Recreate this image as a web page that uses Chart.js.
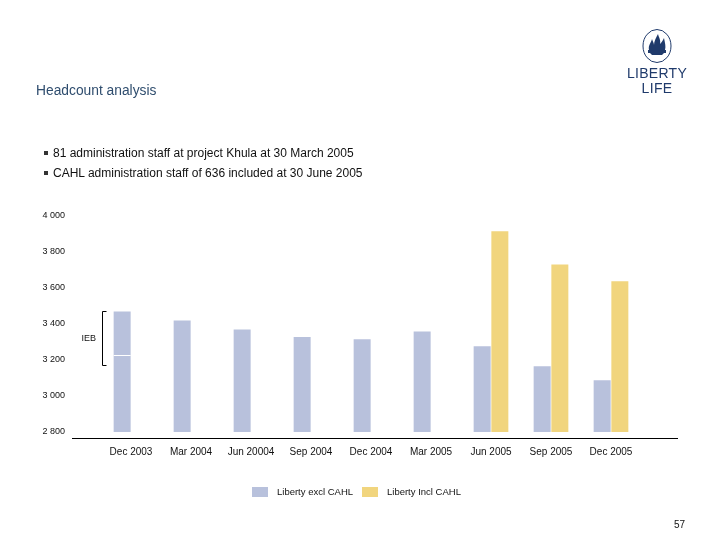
<!DOCTYPE html>
<html>
<head>
<meta charset="utf-8">
<script src="https://cdn.jsdelivr.net/npm/chart.js@4"></script>
<style>
  html, body { margin:0; padding:0; background:#fff; }
  body { width:720px; height:540px; position:relative; overflow:hidden; font-family:"Liberation Sans", Arial, sans-serif; }
  #wrap { position:absolute; left:0; top:0; width:720px; height:540px; }
  .title { position:absolute; left:36px; top:83px; font-size:13.8px; color:#2f4d6e; }
  .bullet { position:absolute; left:44px; font-size:12px; color:#111; }
  .bullet span.sq { display:inline-block; width:4px; height:4px; background:#333; margin-right:5px; vertical-align:middle; position:relative; top:-1px; }
  .legend { position:absolute; top:486px; font-size:9.5px; color:#111; }
  .legend .box { display:inline-block; width:16px; height:10px; vertical-align:middle; margin-right:9px; }
  .page { position:absolute; left:674px; top:519px; font-size:10px; color:#111; }
  .logo { position:absolute; left:617px; top:28px; width:80px; text-align:center; color:#1f3a6b; }
  .logo .t { font-size:14px; line-height:15px; letter-spacing:0.3px; }
</style>
</head>
<body>
<div id="wrap"><canvas id="c" width="720" height="540"></canvas></div>
<div class="title">Headcount analysis</div>
<div class="bullet" style="top:146px"><span class="sq"></span>81 administration staff at project Khula at 30 March 2005</div>
<div class="bullet" style="top:166px"><span class="sq"></span>CAHL administration staff of 636 included at 30 June 2005</div>
<div class="logo">
  <svg width="32" height="36" viewBox="0 0 32 36" style="display:block;margin:0 auto 2px auto">
    <ellipse cx="16" cy="18" rx="14" ry="16.5" fill="none" stroke="#1f3a6b" stroke-width="1"/>
    <path d="M8 22 C7 17 10 15 11 11 C12 14 13 15 13 17 C13 13 15 10 17 6 C18 10 20 12 19 16 C21 14 22 12 23 10 C24 15 25 18 24 22 Z" fill="#1f3a6b"/>
    <rect x="7" y="22" width="18" height="3" fill="#1f3a6b"/>
    <path d="M9 25 L23 25 L21 27 L11 27 Z" fill="#1f3a6b"/>
  </svg>
  <div class="t">LIBERTY</div>
  <div class="t">LIFE</div>
</div>
<div class="legend" style="left:252px"><span class="box" style="background:#b8c1dc"></span>Liberty excl CAHL</div>
<div class="legend" style="left:362px"><span class="box" style="background:#f1d57e"></span>Liberty Incl CAHL</div>
<div class="page">57</div>
<script>
const categories = ["Dec 2003","Mar 2004","Jun 20004","Sep 2004","Dec 2004","Mar 2005","Jun 2005","Sep 2005","Dec 2005"];
const libertyExclCAHL = [3470, 3420, 3370, 3328, 3315, 3359, 3276, 3165, 3087];
const libertyInclCAHL = [null, null, null, null, null, null, 3915, 3731, 3637];
const yTicks = [2800, 3000, 3200, 3400, 3600, 3800, 4000];
const iebSplit = 3226;      // white divider inside the Dec 2003 bar
const iebRange = [3170, 3470]; // bracket extent labelled "IEB"

const fmt = v => String(v).replace(/\B(?=(\d{3})+(?!\d))/g, ' ');

const extras = {
  id: 'extras',
  afterDatasetsDraw(chart) {
    const ctx = chart.ctx;
    const y = chart.scales.y;
    const area = chart.chartArea;
    const bar = chart.getDatasetMeta(0).data[0];
    ctx.save();
    const ys = Math.round(y.getPixelForValue(iebSplit)) + 0.5;
    ctx.strokeStyle = '#ffffff';
    ctx.lineWidth = 1;
    ctx.beginPath();
    ctx.moveTo(bar.x - bar.width / 2, ys);
    ctx.lineTo(bar.x + bar.width / 2, ys);
    ctx.stroke();
    const t = Math.round(y.getPixelForValue(iebRange[1])) + 0.5;
    const b = Math.round(y.getPixelForValue(iebRange[0])) + 0.5;
    const bx = 102.5;
    ctx.strokeStyle = '#000';
    ctx.beginPath();
    ctx.moveTo(bx + 4, t); ctx.lineTo(bx, t); ctx.lineTo(bx, b); ctx.lineTo(bx + 4, b);
    ctx.stroke();
    ctx.fillStyle = '#111';
    ctx.font = '9px "Liberation Sans", Arial, sans-serif';
    ctx.textAlign = 'right';
    ctx.textBaseline = 'middle';
    ctx.fillText('IEB', 96, (t + b) / 2);
    const ay = Math.round(area.bottom + 6) + 0.5;
    ctx.strokeStyle = '#000';
    ctx.beginPath();
    ctx.moveTo(72, ay);
    ctx.lineTo(678, ay);
    ctx.stroke();
    ctx.restore();
  }
};

new Chart(document.getElementById('c'), {
  type: 'bar',
  data: {
    labels: categories,
    datasets: [
      { label: 'Liberty excl CAHL', data: libertyExclCAHL, backgroundColor: '#b8c1dc', borderWidth: 0 },
      { label: 'Liberty Incl CAHL', data: libertyInclCAHL, backgroundColor: '#f1d57e', borderWidth: 0 }
    ]
  },
  options: {
    responsive: false,
    animation: false,
    devicePixelRatio: 1,
    layout: { padding: { left: 35, right: 79, top: 216, bottom: 70 } },
    plugins: { legend: { display: false }, tooltip: { enabled: false }, title: { display: false } },
    datasets: { bar: { categoryPercentage: 0.59, barPercentage: 0.96, grouped: true } },
    scales: {
      x: {
        grid: { display: false, drawTicks: false },
        border: { display: false },
        ticks: { color: '#111', font: { size: 10, family: '"Liberation Sans", Arial, sans-serif' }, padding: 14, maxRotation: 0, autoSkip: false },
        afterFit(s) { s.height = 38; }
      },
      y: {
        min: 2800, max: 4000,
        grid: { display: false, drawTicks: false },
        border: { display: false },
        afterBuildTicks(s) { s.ticks = yTicks.map(v => ({ value: v })); },
        ticks: { color: '#111', font: { size: 9, family: '"Liberation Sans", Arial, sans-serif' }, padding: 36, callback: v => fmt(v) },
        afterFit(s) { s.width = 66; }
      }
    }
  },
  plugins: [extras]
});
</script>
</body>
</html>
